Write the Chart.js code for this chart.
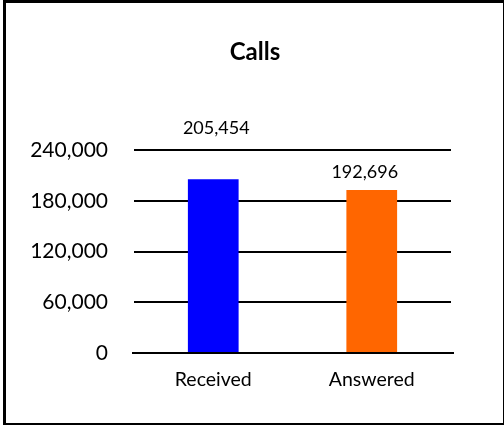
<!DOCTYPE html>
<html>
<head>
<meta charset="utf-8">
<script src="https://cdn.jsdelivr.net/npm/chart.js@4"></script>
<style>
  html, body { margin: 0; padding: 0; background: #fff; }
  #wrap { position: relative; width: 504px; height: 425px; }
  #frame {
    position: absolute; left: 3px; top: 0; right: 0; bottom: 0;
    border-top: 3px solid #000; border-left: 3px solid #000;
    border-bottom: 2px solid #000; border-right: 1px solid #000;
    pointer-events: none;
  }
</style>
</head>
<body>
<div id="wrap">
  <canvas id="chart" width="504" height="425"></canvas>
  <div id="frame"></div>
</div>
<script>
let chartTitle = 'Calls';
let categories = ['Received', 'Answered'];
let calls = [205454, 192696];
let barColors = ['#0000FF', '#FF6600'];
let yTicks = [0, 60000, 120000, 180000, 240000];

// where each value label sits relative to its bar top (Excel put them a bit oddly)
let labelShift = [{ dx: 3, dy: 51 }, { dx: -7, dy: 18 }];

let fmt = v => v.toLocaleString('en-US');

// title is centred on the whole canvas, not on the plot, so draw it here
let extras = {
    id: 'extras',
    afterDraw(chart) {
        let ctx = chart.ctx;
        let area = chart.chartArea;
        let y0 = chart.scales.y.getPixelForValue(0);
        ctx.save();
        // axis line at zero sticks out a little past the gridlines
        ctx.strokeStyle = '#000';
        ctx.lineWidth = 2;
        ctx.beginPath();
        ctx.moveTo(area.left - 2, y0);
        ctx.lineTo(area.right + 3, y0);
        ctx.stroke();

        ctx.fillStyle = '#000';
        ctx.textAlign = 'center';
        ctx.textBaseline = 'middle';
        ctx.font = 'bold 24px Lato';
        ctx.fillText(chartTitle, chart.width / 2 + 3, 52);

        ctx.font = '18px Lato';
        chart.getDatasetMeta(0).data.forEach((bar, i) => {
            let s = labelShift[i];
            ctx.fillText(fmt(calls[i]), bar.x + s.dx, bar.y - s.dy);
        });
        ctx.restore();
    }
};

let ctx = document.getElementById('chart').getContext('2d');

let chart = new Chart(ctx, {
    type: 'bar',
    data: {
        labels: categories,
        datasets: [{
            data: calls,
            backgroundColor: barColors,
            borderWidth: 0,
            barPercentage: 0.32,
            categoryPercentage: 1
        }]
    },
    options: {
        responsive: false,
        animation: false,
        layout: { padding: { left: 6, right: 53, top: 150, bottom: 0 } },
        plugins: {
            legend: { display: false },
            tooltip: { enabled: false },
            title: { display: false }
        },
        scales: {
            y: {
                min: 0,
                max: 240000,
                afterFit: s => { s.width = 128; s.paddingTop = 0; },
                afterBuildTicks: s => { s.ticks = yTicks.map(v => ({ value: v })); },
                border: { display: false },
                grid: { color: '#000', lineWidth: 2, drawTicks: false },
                ticks: {
                    padding: 26,
                    color: '#000',
                    font: { family: 'Lato', size: 21 },
                    callback: v => fmt(v)
                }
            },
            x: {
                afterFit: s => { s.height = 72; },
                border: { display: false },
                grid: { display: false, drawTicks: false },
                ticks: {
                    padding: 15,
                    color: '#000',
                    font: { family: 'Lato', size: 19.5 }
                }
            }
        }
    },
    plugins: [extras]
});
</script>
</body>
</html>
